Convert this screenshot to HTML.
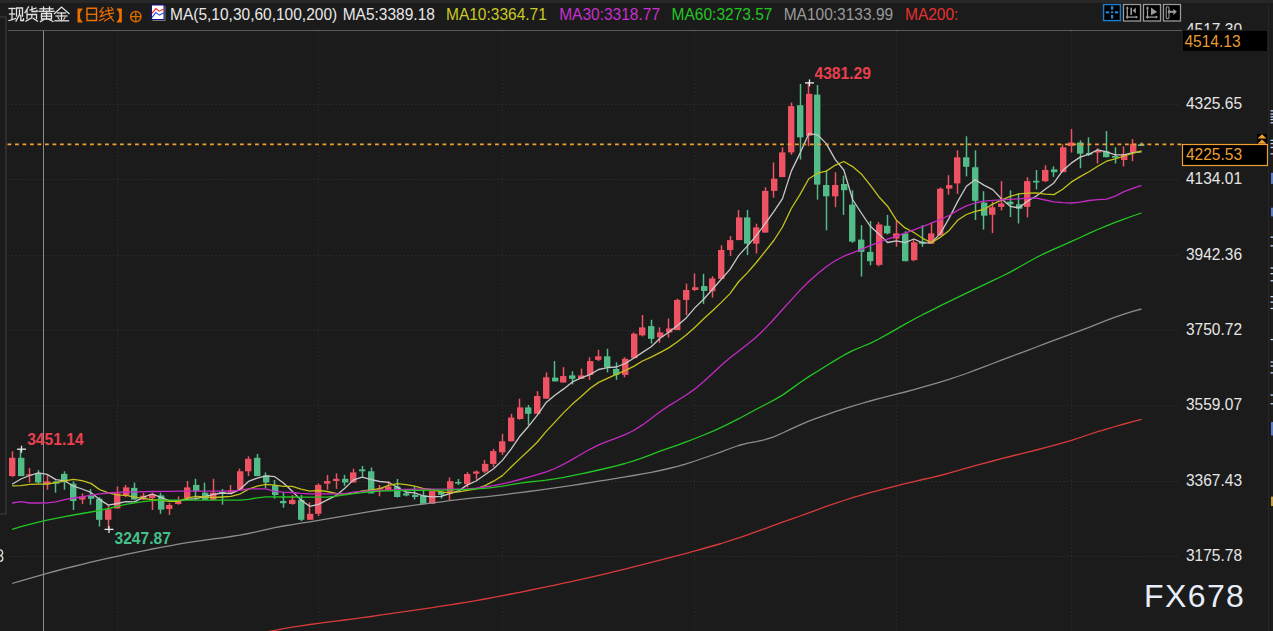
<!DOCTYPE html>
<html><head><meta charset="utf-8">
<style>
html,body{margin:0;padding:0;}
body{width:1273px;height:631px;overflow:hidden;background:#1b1b1b;position:relative;font-family:"Liberation Sans",sans-serif;}
.t{position:absolute;white-space:nowrap;font-size:15.5px;line-height:1;transform:scaleY(1.12);transform-origin:0 12.5px;}
svg{position:absolute;left:0;top:0;}
.ax{position:absolute;left:1186px;font-size:15.5px;color:#e6e6e6;line-height:1;white-space:nowrap;transform:scaleY(1.12);transform-origin:0 12.5px;}
.lb{position:absolute;font-weight:bold;font-size:15.6px;line-height:1;white-space:nowrap;}
</style></head><body>
<div style="position:absolute;left:0;top:0;width:1273px;height:3px;background:#272727"></div>
<svg width="1273" height="631" viewBox="0 0 1273 631">
<line x1="8" y1="104.5" x2="1180" y2="104.5" stroke="#353535" stroke-width="1" stroke-dasharray="1 2.77"/>
<line x1="8" y1="179.5" x2="1180" y2="179.5" stroke="#353535" stroke-width="1" stroke-dasharray="1 2.77"/>
<line x1="8" y1="255.5" x2="1180" y2="255.5" stroke="#353535" stroke-width="1" stroke-dasharray="1 2.77"/>
<line x1="8" y1="330.5" x2="1180" y2="330.5" stroke="#353535" stroke-width="1" stroke-dasharray="1 2.77"/>
<line x1="8" y1="405.5" x2="1180" y2="405.5" stroke="#353535" stroke-width="1" stroke-dasharray="1 2.77"/>
<line x1="8" y1="481.5" x2="1180" y2="481.5" stroke="#353535" stroke-width="1" stroke-dasharray="1 2.77"/>
<line x1="8" y1="556.5" x2="1180" y2="556.5" stroke="#353535" stroke-width="1" stroke-dasharray="1 2.77"/>
<line x1="117.5" y1="31" x2="117.5" y2="631" stroke="#313131" stroke-width="1" stroke-dasharray="1 2.77"/>
<line x1="318.5" y1="31" x2="318.5" y2="631" stroke="#313131" stroke-width="1" stroke-dasharray="1 2.77"/>
<line x1="502.5" y1="31" x2="502.5" y2="631" stroke="#313131" stroke-width="1" stroke-dasharray="1 2.77"/>
<line x1="694.5" y1="31" x2="694.5" y2="631" stroke="#313131" stroke-width="1" stroke-dasharray="1 2.77"/>
<line x1="896.5" y1="31" x2="896.5" y2="631" stroke="#313131" stroke-width="1" stroke-dasharray="1 2.77"/>
<line x1="1071.5" y1="31" x2="1071.5" y2="631" stroke="#313131" stroke-width="1" stroke-dasharray="1 2.77"/>
<line x1="8" y1="30.5" x2="1182" y2="30.5" stroke="#5a5a5a" stroke-width="1.2"/>
<line x1="43.5" y1="31" x2="43.5" y2="631" stroke="#8a8a8a" stroke-width="1"/>
<polyline points="0,17 6,17 6,514 0,514" fill="none" stroke="#2e2e2e" stroke-width="2"/>
<line x1="12.5" y1="451.3" x2="12.5" y2="476.9" stroke="#ef5262" stroke-width="1.5"/>
<rect x="9" y="457.8" width="6.4" height="18.3" fill="#ef5262"/>
<line x1="20.5" y1="449" x2="20.5" y2="476.1" stroke="#52bb88" stroke-width="1.5"/>
<rect x="18" y="457.8" width="6.4" height="18.3" fill="#52bb88"/>
<line x1="29.5" y1="467.9" x2="29.5" y2="482.5" stroke="#ef5262" stroke-width="1.5"/>
<rect x="26" y="474.3" width="6.4" height="1.2" fill="#ef5262"/>
<line x1="38.5" y1="470.1" x2="38.5" y2="483.7" stroke="#52bb88" stroke-width="1.5"/>
<rect x="35" y="473.4" width="6.4" height="9.1" fill="#52bb88"/>
<line x1="47.5" y1="475.4" x2="47.5" y2="489.7" stroke="#ef5262" stroke-width="1.5"/>
<rect x="44" y="481.4" width="6.4" height="3" fill="#ef5262"/>
<line x1="55.5" y1="480.6" x2="55.5" y2="492.7" stroke="#52bb88" stroke-width="1.5"/>
<rect x="53" y="481.4" width="6.4" height="2.3" fill="#52bb88"/>
<line x1="64.5" y1="471.3" x2="64.5" y2="489.7" stroke="#52bb88" stroke-width="1.5"/>
<rect x="61" y="473.9" width="6.4" height="8.3" fill="#52bb88"/>
<line x1="73.5" y1="481.4" x2="73.5" y2="510" stroke="#52bb88" stroke-width="1.5"/>
<rect x="70" y="483.7" width="6.4" height="17.3" fill="#52bb88"/>
<line x1="82.5" y1="493.4" x2="82.5" y2="504" stroke="#ef5262" stroke-width="1.5"/>
<rect x="79" y="496.5" width="6.4" height="3" fill="#ef5262"/>
<line x1="90.5" y1="488.9" x2="90.5" y2="504.7" stroke="#52bb88" stroke-width="1.5"/>
<rect x="88" y="495.7" width="6.4" height="3" fill="#52bb88"/>
<line x1="99.5" y1="497.2" x2="99.5" y2="526.6" stroke="#52bb88" stroke-width="1.5"/>
<rect x="96" y="498.7" width="6.4" height="21.1" fill="#52bb88"/>
<line x1="108.5" y1="504.7" x2="108.5" y2="529" stroke="#ef5262" stroke-width="1.5"/>
<rect x="105" y="509.3" width="6.4" height="10.5" fill="#ef5262"/>
<line x1="117.5" y1="486.4" x2="117.5" y2="508.5" stroke="#ef5262" stroke-width="1.5"/>
<rect x="114" y="493.4" width="6.4" height="15.1" fill="#ef5262"/>
<line x1="125.5" y1="484.9" x2="125.5" y2="497.2" stroke="#ef5262" stroke-width="1.5"/>
<rect x="123" y="487.4" width="6.4" height="8.3" fill="#ef5262"/>
<line x1="134.5" y1="482.6" x2="134.5" y2="500.2" stroke="#52bb88" stroke-width="1.5"/>
<rect x="131" y="487.9" width="6.4" height="11.6" fill="#52bb88"/>
<line x1="143.5" y1="492.7" x2="143.5" y2="500.2" stroke="#ef5262" stroke-width="1.5"/>
<rect x="140" y="495.7" width="6.4" height="3.8" fill="#ef5262"/>
<line x1="152.5" y1="492.7" x2="152.5" y2="510" stroke="#ef5262" stroke-width="1.5"/>
<rect x="149" y="494.2" width="6.4" height="3.8" fill="#ef5262"/>
<line x1="160.5" y1="492.7" x2="160.5" y2="513.8" stroke="#52bb88" stroke-width="1.5"/>
<rect x="158" y="495.4" width="6.4" height="14.2" fill="#52bb88"/>
<line x1="169.5" y1="502.9" x2="169.5" y2="515" stroke="#ef5262" stroke-width="1.5"/>
<rect x="166" y="505" width="6.4" height="4" fill="#ef5262"/>
<line x1="178.5" y1="496.5" x2="178.5" y2="504.7" stroke="#ef5262" stroke-width="1.5"/>
<rect x="175" y="500.2" width="6.4" height="3.8" fill="#ef5262"/>
<line x1="187.5" y1="481" x2="187.5" y2="498.7" stroke="#ef5262" stroke-width="1.5"/>
<rect x="184" y="487.4" width="6.4" height="10.6" fill="#ef5262"/>
<line x1="195.5" y1="478.8" x2="195.5" y2="499.9" stroke="#52bb88" stroke-width="1.5"/>
<rect x="193" y="484.9" width="6.4" height="6.3" fill="#52bb88"/>
<line x1="204.5" y1="482.6" x2="204.5" y2="499.9" stroke="#52bb88" stroke-width="1.5"/>
<rect x="202" y="492.7" width="6.4" height="7.2" fill="#52bb88"/>
<line x1="213.5" y1="478.8" x2="213.5" y2="499.9" stroke="#ef5262" stroke-width="1.5"/>
<rect x="210" y="492.7" width="6.4" height="7.2" fill="#ef5262"/>
<line x1="222.5" y1="488.9" x2="222.5" y2="504.7" stroke="#52bb88" stroke-width="1.5"/>
<rect x="219" y="492" width="6.4" height="1.9" fill="#52bb88"/>
<line x1="230.5" y1="484.9" x2="230.5" y2="493" stroke="#ef5262" stroke-width="1.5"/>
<rect x="228" y="490.4" width="6.4" height="2.3" fill="#ef5262"/>
<line x1="239.5" y1="468.6" x2="239.5" y2="490.4" stroke="#ef5262" stroke-width="1.5"/>
<rect x="237" y="471.3" width="6.4" height="18.4" fill="#ef5262"/>
<line x1="248.5" y1="456.3" x2="248.5" y2="476.1" stroke="#ef5262" stroke-width="1.5"/>
<rect x="245" y="458.8" width="6.4" height="12.5" fill="#ef5262"/>
<line x1="257.5" y1="453.9" x2="257.5" y2="476.1" stroke="#52bb88" stroke-width="1.5"/>
<rect x="254" y="457.8" width="6.4" height="18.3" fill="#52bb88"/>
<line x1="265.5" y1="472.4" x2="265.5" y2="488.2" stroke="#52bb88" stroke-width="1.5"/>
<rect x="263" y="475.4" width="6.4" height="7.1" fill="#52bb88"/>
<line x1="274.5" y1="479.9" x2="274.5" y2="498.7" stroke="#52bb88" stroke-width="1.5"/>
<rect x="272" y="485.2" width="6.4" height="9.8" fill="#52bb88"/>
<line x1="283.5" y1="492" x2="283.5" y2="507.7" stroke="#52bb88" stroke-width="1.5"/>
<rect x="280" y="501" width="6.4" height="2.2" fill="#52bb88"/>
<line x1="292.5" y1="495" x2="292.5" y2="504.7" stroke="#ef5262" stroke-width="1.5"/>
<rect x="289" y="499.9" width="6.4" height="4.1" fill="#ef5262"/>
<line x1="301.5" y1="495" x2="301.5" y2="521" stroke="#52bb88" stroke-width="1.5"/>
<rect x="298" y="499.9" width="6.4" height="19.9" fill="#52bb88"/>
<line x1="309.5" y1="502.5" x2="309.5" y2="519.8" stroke="#ef5262" stroke-width="1.5"/>
<rect x="307" y="513.8" width="6.4" height="6" fill="#ef5262"/>
<line x1="318.5" y1="483.4" x2="318.5" y2="516" stroke="#ef5262" stroke-width="1.5"/>
<rect x="315" y="484.9" width="6.4" height="28.9" fill="#ef5262"/>
<line x1="327.5" y1="474.9" x2="327.5" y2="489.7" stroke="#ef5262" stroke-width="1.5"/>
<rect x="324" y="481" width="6.4" height="2.7" fill="#ef5262"/>
<line x1="336.5" y1="473.4" x2="336.5" y2="488.9" stroke="#ef5262" stroke-width="1.5"/>
<rect x="333" y="478.8" width="6.4" height="2.2" fill="#ef5262"/>
<line x1="344.5" y1="474.9" x2="344.5" y2="485.9" stroke="#52bb88" stroke-width="1.5"/>
<rect x="342" y="478.8" width="6.4" height="3.7" fill="#52bb88"/>
<line x1="353.5" y1="468.6" x2="353.5" y2="482.5" stroke="#ef5262" stroke-width="1.5"/>
<rect x="350" y="472.4" width="6.4" height="10.1" fill="#ef5262"/>
<line x1="362.5" y1="465.9" x2="362.5" y2="476.9" stroke="#52bb88" stroke-width="1.5"/>
<rect x="359" y="469.4" width="6.4" height="1.9" fill="#52bb88"/>
<line x1="371.5" y1="467.4" x2="371.5" y2="493.4" stroke="#52bb88" stroke-width="1.5"/>
<rect x="368" y="471.3" width="6.4" height="22.1" fill="#52bb88"/>
<line x1="379.5" y1="485" x2="379.5" y2="496.3" stroke="#ef5262" stroke-width="1.5"/>
<rect x="377" y="488" width="6.4" height="1.5" fill="#ef5262"/>
<line x1="388.5" y1="481.2" x2="388.5" y2="490.3" stroke="#ef5262" stroke-width="1.5"/>
<rect x="385" y="486.5" width="6.4" height="3.8" fill="#ef5262"/>
<line x1="397.5" y1="479" x2="397.5" y2="497.5" stroke="#52bb88" stroke-width="1.5"/>
<rect x="394" y="486.5" width="6.4" height="10.5" fill="#52bb88"/>
<line x1="406.5" y1="491" x2="406.5" y2="496.3" stroke="#52bb88" stroke-width="1.5"/>
<rect x="403" y="493.3" width="6.4" height="2.2" fill="#52bb88"/>
<line x1="414.5" y1="486.5" x2="414.5" y2="499.6" stroke="#52bb88" stroke-width="1.5"/>
<rect x="412" y="494.8" width="6.4" height="2.2" fill="#52bb88"/>
<line x1="423.5" y1="491" x2="423.5" y2="503.8" stroke="#52bb88" stroke-width="1.5"/>
<rect x="420" y="495.5" width="6.4" height="8.3" fill="#52bb88"/>
<line x1="432.5" y1="491" x2="432.5" y2="503.8" stroke="#ef5262" stroke-width="1.5"/>
<rect x="429" y="491" width="6.4" height="12.8" fill="#ef5262"/>
<line x1="441.5" y1="491" x2="441.5" y2="498.6" stroke="#52bb88" stroke-width="1.5"/>
<rect x="438" y="491.8" width="6.4" height="3" fill="#52bb88"/>
<line x1="449.5" y1="477.5" x2="449.5" y2="500.1" stroke="#ef5262" stroke-width="1.5"/>
<rect x="447" y="481.2" width="6.4" height="12.1" fill="#ef5262"/>
<line x1="458.5" y1="479" x2="458.5" y2="485" stroke="#52bb88" stroke-width="1.5"/>
<rect x="455" y="482" width="6.4" height="1.5" fill="#52bb88"/>
<line x1="467.5" y1="472.2" x2="467.5" y2="487.3" stroke="#ef5262" stroke-width="1.5"/>
<rect x="464" y="474" width="6.4" height="10.3" fill="#ef5262"/>
<line x1="476.5" y1="470.4" x2="476.5" y2="479.7" stroke="#ef5262" stroke-width="1.5"/>
<rect x="473" y="471.5" width="6.4" height="2.2" fill="#ef5262"/>
<line x1="484.5" y1="459.9" x2="484.5" y2="473" stroke="#ef5262" stroke-width="1.5"/>
<rect x="482" y="463.9" width="6.4" height="7.6" fill="#ef5262"/>
<line x1="493.5" y1="448.9" x2="493.5" y2="466.9" stroke="#ef5262" stroke-width="1.5"/>
<rect x="490" y="451.1" width="6.4" height="12.8" fill="#ef5262"/>
<line x1="502.5" y1="433.8" x2="502.5" y2="454.9" stroke="#ef5262" stroke-width="1.5"/>
<rect x="499" y="441.3" width="6.4" height="11" fill="#ef5262"/>
<line x1="511.5" y1="413.8" x2="511.5" y2="441.3" stroke="#ef5262" stroke-width="1.5"/>
<rect x="508" y="417.5" width="6.4" height="23.8" fill="#ef5262"/>
<line x1="519.5" y1="398.7" x2="519.5" y2="419.8" stroke="#ef5262" stroke-width="1.5"/>
<rect x="517" y="407.4" width="6.4" height="11.6" fill="#ef5262"/>
<line x1="528.5" y1="405" x2="528.5" y2="425.1" stroke="#52bb88" stroke-width="1.5"/>
<rect x="525" y="407.4" width="6.4" height="6.4" fill="#52bb88"/>
<line x1="537.5" y1="391.2" x2="537.5" y2="413.8" stroke="#ef5262" stroke-width="1.5"/>
<rect x="534" y="396" width="6.4" height="17.8" fill="#ef5262"/>
<line x1="546.5" y1="372.4" x2="546.5" y2="398.7" stroke="#ef5262" stroke-width="1.5"/>
<rect x="543" y="377.3" width="6.4" height="21.4" fill="#ef5262"/>
<line x1="554.5" y1="361.1" x2="554.5" y2="381.4" stroke="#52bb88" stroke-width="1.5"/>
<rect x="552" y="377.6" width="6.4" height="3.8" fill="#52bb88"/>
<line x1="563.5" y1="367.1" x2="563.5" y2="382.5" stroke="#ef5262" stroke-width="1.5"/>
<rect x="560" y="376.1" width="6.4" height="6.4" fill="#ef5262"/>
<line x1="572.5" y1="371.3" x2="572.5" y2="384.4" stroke="#52bb88" stroke-width="1.5"/>
<rect x="569" y="375.4" width="6.4" height="3.4" fill="#52bb88"/>
<line x1="581.5" y1="368.6" x2="581.5" y2="378.8" stroke="#ef5262" stroke-width="1.5"/>
<rect x="578" y="375.4" width="6.4" height="3.4" fill="#ef5262"/>
<line x1="589.5" y1="357.3" x2="589.5" y2="379.9" stroke="#ef5262" stroke-width="1.5"/>
<rect x="587" y="361.1" width="6.4" height="13.8" fill="#ef5262"/>
<line x1="598.5" y1="349.8" x2="598.5" y2="361.1" stroke="#ef5262" stroke-width="1.5"/>
<rect x="595" y="356.3" width="6.4" height="3.6" fill="#ef5262"/>
<line x1="607.5" y1="348.7" x2="607.5" y2="372.4" stroke="#52bb88" stroke-width="1.5"/>
<rect x="604" y="356.3" width="6.4" height="10.8" fill="#52bb88"/>
<line x1="616.5" y1="362.3" x2="616.5" y2="379.9" stroke="#52bb88" stroke-width="1.5"/>
<rect x="613" y="368.9" width="6.4" height="6" fill="#52bb88"/>
<line x1="624.5" y1="357.3" x2="624.5" y2="377.3" stroke="#ef5262" stroke-width="1.5"/>
<rect x="622" y="358.8" width="6.4" height="16.1" fill="#ef5262"/>
<line x1="633.5" y1="332.4" x2="633.5" y2="358.1" stroke="#ef5262" stroke-width="1.5"/>
<rect x="631" y="333.7" width="6.4" height="24.4" fill="#ef5262"/>
<line x1="642.5" y1="315" x2="642.5" y2="336.4" stroke="#ef5262" stroke-width="1.5"/>
<rect x="639" y="327.4" width="6.4" height="7.9" fill="#ef5262"/>
<line x1="651.5" y1="319.8" x2="651.5" y2="343.5" stroke="#52bb88" stroke-width="1.5"/>
<rect x="648" y="326.1" width="6.4" height="12.7" fill="#52bb88"/>
<line x1="659.5" y1="327.4" x2="659.5" y2="342.7" stroke="#ef5262" stroke-width="1.5"/>
<rect x="657" y="332.4" width="6.4" height="4.8" fill="#ef5262"/>
<line x1="668.5" y1="318.5" x2="668.5" y2="337.5" stroke="#ef5262" stroke-width="1.5"/>
<rect x="666" y="328.5" width="6.4" height="3.9" fill="#ef5262"/>
<line x1="677.5" y1="298.8" x2="677.5" y2="330.1" stroke="#ef5262" stroke-width="1.5"/>
<rect x="674" y="299.9" width="6.4" height="30.2" fill="#ef5262"/>
<line x1="686.5" y1="283.6" x2="686.5" y2="315" stroke="#ef5262" stroke-width="1.5"/>
<rect x="683" y="290" width="6.4" height="9.9" fill="#ef5262"/>
<line x1="694.5" y1="273.5" x2="694.5" y2="290.9" stroke="#ef5262" stroke-width="1.5"/>
<rect x="692" y="287.3" width="6.4" height="2.7" fill="#ef5262"/>
<line x1="703.5" y1="273.8" x2="703.5" y2="303.9" stroke="#52bb88" stroke-width="1.5"/>
<rect x="701" y="286.1" width="6.4" height="4.8" fill="#52bb88"/>
<line x1="712.5" y1="276.2" x2="712.5" y2="297.6" stroke="#ef5262" stroke-width="1.5"/>
<rect x="709" y="278.5" width="6.4" height="12.7" fill="#ef5262"/>
<line x1="721.5" y1="245.3" x2="721.5" y2="278.9" stroke="#ef5262" stroke-width="1.5"/>
<rect x="718" y="250" width="6.4" height="28.9" fill="#ef5262"/>
<line x1="730.5" y1="236.1" x2="730.5" y2="255.9" stroke="#ef5262" stroke-width="1.5"/>
<rect x="727" y="240.1" width="6.4" height="9.9" fill="#ef5262"/>
<line x1="738.5" y1="209.9" x2="738.5" y2="240.1" stroke="#ef5262" stroke-width="1.5"/>
<rect x="736" y="217.4" width="6.4" height="22.7" fill="#ef5262"/>
<line x1="747.5" y1="209.9" x2="747.5" y2="255.1" stroke="#52bb88" stroke-width="1.5"/>
<rect x="744" y="217.4" width="6.4" height="26.3" fill="#52bb88"/>
<line x1="756.5" y1="223.7" x2="756.5" y2="253.5" stroke="#ef5262" stroke-width="1.5"/>
<rect x="753" y="227.4" width="6.4" height="16.3" fill="#ef5262"/>
<line x1="765.5" y1="187.3" x2="765.5" y2="232.6" stroke="#ef5262" stroke-width="1.5"/>
<rect x="762" y="190.9" width="6.4" height="41.7" fill="#ef5262"/>
<line x1="773.5" y1="162.4" x2="773.5" y2="197.7" stroke="#ef5262" stroke-width="1.5"/>
<rect x="771" y="178.7" width="6.4" height="12.2" fill="#ef5262"/>
<line x1="782.5" y1="147.4" x2="782.5" y2="177.1" stroke="#ef5262" stroke-width="1.5"/>
<rect x="779" y="152.4" width="6.4" height="24.7" fill="#ef5262"/>
<line x1="791.5" y1="102.5" x2="791.5" y2="154.8" stroke="#ef5262" stroke-width="1.5"/>
<rect x="788" y="106.1" width="6.4" height="46.3" fill="#ef5262"/>
<line x1="800.5" y1="84" x2="800.5" y2="159.6" stroke="#52bb88" stroke-width="1.5"/>
<rect x="797" y="105.2" width="6.4" height="32.2" fill="#52bb88"/>
<line x1="808.5" y1="81.9" x2="808.5" y2="146.1" stroke="#ef5262" stroke-width="1.5"/>
<rect x="806" y="93.8" width="6.4" height="42" fill="#ef5262"/>
<line x1="817.5" y1="85.1" x2="817.5" y2="199.6" stroke="#52bb88" stroke-width="1.5"/>
<rect x="814" y="94.6" width="6.4" height="90" fill="#52bb88"/>
<line x1="826.5" y1="170.6" x2="826.5" y2="230.3" stroke="#52bb88" stroke-width="1.5"/>
<rect x="823" y="185" width="6.4" height="11.3" fill="#52bb88"/>
<line x1="835.5" y1="172.2" x2="835.5" y2="207.2" stroke="#ef5262" stroke-width="1.5"/>
<rect x="832" y="185" width="6.4" height="11.3" fill="#ef5262"/>
<line x1="843.5" y1="175.7" x2="843.5" y2="214.9" stroke="#52bb88" stroke-width="1.5"/>
<rect x="841" y="184" width="6.4" height="6.2" fill="#52bb88"/>
<line x1="852.5" y1="190.2" x2="852.5" y2="242.7" stroke="#52bb88" stroke-width="1.5"/>
<rect x="849" y="204.6" width="6.4" height="37" fill="#52bb88"/>
<line x1="861.5" y1="225.2" x2="861.5" y2="276.6" stroke="#52bb88" stroke-width="1.5"/>
<rect x="858" y="239.6" width="6.4" height="12.3" fill="#52bb88"/>
<line x1="870.5" y1="221" x2="870.5" y2="265.3" stroke="#52bb88" stroke-width="1.5"/>
<rect x="867" y="251.9" width="6.4" height="9.3" fill="#52bb88"/>
<line x1="878.5" y1="222.1" x2="878.5" y2="266.4" stroke="#ef5262" stroke-width="1.5"/>
<rect x="876" y="224.5" width="6.4" height="40.4" fill="#ef5262"/>
<line x1="887.5" y1="214.9" x2="887.5" y2="234.4" stroke="#52bb88" stroke-width="1.5"/>
<rect x="884" y="225.8" width="6.4" height="7.6" fill="#52bb88"/>
<line x1="896.5" y1="221" x2="896.5" y2="246.8" stroke="#ef5262" stroke-width="1.5"/>
<rect x="893" y="233.4" width="6.4" height="5.1" fill="#ef5262"/>
<line x1="905.5" y1="231.3" x2="905.5" y2="261.2" stroke="#52bb88" stroke-width="1.5"/>
<rect x="902" y="233.4" width="6.4" height="27.8" fill="#52bb88"/>
<line x1="913.5" y1="239" x2="913.5" y2="261.2" stroke="#ef5262" stroke-width="1.5"/>
<rect x="911" y="242.3" width="6.4" height="17.9" fill="#ef5262"/>
<line x1="922.5" y1="225.2" x2="922.5" y2="246.8" stroke="#52bb88" stroke-width="1.5"/>
<rect x="919" y="241.6" width="6.4" height="2.1" fill="#52bb88"/>
<line x1="931.5" y1="222.1" x2="931.5" y2="243.7" stroke="#ef5262" stroke-width="1.5"/>
<rect x="928" y="233.4" width="6.4" height="10.3" fill="#ef5262"/>
<line x1="940.5" y1="187.5" x2="940.5" y2="235.5" stroke="#ef5262" stroke-width="1.5"/>
<rect x="937" y="188.7" width="6.4" height="46.8" fill="#ef5262"/>
<line x1="948.5" y1="175.2" x2="948.5" y2="194.7" stroke="#ef5262" stroke-width="1.5"/>
<rect x="946" y="185.1" width="6.4" height="3.5" fill="#ef5262"/>
<line x1="957.5" y1="150.3" x2="957.5" y2="193.9" stroke="#ef5262" stroke-width="1.5"/>
<rect x="954" y="157.3" width="6.4" height="26.1" fill="#ef5262"/>
<line x1="966.5" y1="136.3" x2="966.5" y2="176.4" stroke="#52bb88" stroke-width="1.5"/>
<rect x="963" y="157.3" width="6.4" height="9.5" fill="#52bb88"/>
<line x1="975.5" y1="150.3" x2="975.5" y2="220" stroke="#52bb88" stroke-width="1.5"/>
<rect x="972" y="167.2" width="6.4" height="33.6" fill="#52bb88"/>
<line x1="983.5" y1="191.2" x2="983.5" y2="229.6" stroke="#52bb88" stroke-width="1.5"/>
<rect x="981" y="202.6" width="6.4" height="13.1" fill="#52bb88"/>
<line x1="992.5" y1="201.7" x2="992.5" y2="233.1" stroke="#ef5262" stroke-width="1.5"/>
<rect x="989" y="207.3" width="6.4" height="7.5" fill="#ef5262"/>
<line x1="1001.5" y1="181.1" x2="1001.5" y2="210.4" stroke="#ef5262" stroke-width="1.5"/>
<rect x="998" y="203.5" width="6.4" height="3.4" fill="#ef5262"/>
<line x1="1010.5" y1="190.4" x2="1010.5" y2="217" stroke="#52bb88" stroke-width="1.5"/>
<rect x="1007" y="201.7" width="6.4" height="2.6" fill="#52bb88"/>
<line x1="1018.5" y1="193.3" x2="1018.5" y2="223.5" stroke="#52bb88" stroke-width="1.5"/>
<rect x="1016" y="204.3" width="6.4" height="4.4" fill="#52bb88"/>
<line x1="1027.5" y1="177.3" x2="1027.5" y2="217.4" stroke="#ef5262" stroke-width="1.5"/>
<rect x="1024" y="181.1" width="6.4" height="25.8" fill="#ef5262"/>
<line x1="1036.5" y1="170" x2="1036.5" y2="189.5" stroke="#52bb88" stroke-width="1.5"/>
<rect x="1033" y="180.8" width="6.4" height="1.7" fill="#52bb88"/>
<line x1="1045.5" y1="165.2" x2="1045.5" y2="182.1" stroke="#ef5262" stroke-width="1.5"/>
<rect x="1042" y="169.9" width="6.4" height="11.3" fill="#ef5262"/>
<line x1="1053.5" y1="166.4" x2="1053.5" y2="176.9" stroke="#52bb88" stroke-width="1.5"/>
<rect x="1051" y="169.4" width="6.4" height="2.8" fill="#52bb88"/>
<line x1="1062.5" y1="144.3" x2="1062.5" y2="172.2" stroke="#ef5262" stroke-width="1.5"/>
<rect x="1060" y="147.3" width="6.4" height="24.9" fill="#ef5262"/>
<line x1="1071.5" y1="128.9" x2="1071.5" y2="152.5" stroke="#ef5262" stroke-width="1.5"/>
<rect x="1068" y="142.5" width="6.4" height="3.5" fill="#ef5262"/>
<line x1="1080.5" y1="140.3" x2="1080.5" y2="168.2" stroke="#52bb88" stroke-width="1.5"/>
<rect x="1077" y="142.5" width="6.4" height="11.2" fill="#52bb88"/>
<line x1="1088.5" y1="137.3" x2="1088.5" y2="156" stroke="#52bb88" stroke-width="1.5"/>
<rect x="1086" y="153" width="6.4" height="1.7" fill="#52bb88"/>
<line x1="1097.5" y1="148.1" x2="1097.5" y2="163.5" stroke="#ef5262" stroke-width="1.5"/>
<rect x="1095" y="150.7" width="6.4" height="1.8" fill="#ef5262"/>
<line x1="1106.5" y1="131" x2="1106.5" y2="157.2" stroke="#52bb88" stroke-width="1.5"/>
<rect x="1103" y="151.3" width="6.4" height="5.9" fill="#52bb88"/>
<line x1="1115.5" y1="147.3" x2="1115.5" y2="163.5" stroke="#52bb88" stroke-width="1.5"/>
<rect x="1112" y="156" width="6.4" height="1.7" fill="#52bb88"/>
<line x1="1123.5" y1="146.4" x2="1123.5" y2="166.4" stroke="#ef5262" stroke-width="1.5"/>
<rect x="1121" y="154.2" width="6.4" height="5.8" fill="#ef5262"/>
<line x1="1132.5" y1="139.1" x2="1132.5" y2="161.2" stroke="#ef5262" stroke-width="1.5"/>
<rect x="1130" y="143.8" width="6.4" height="8.7" fill="#ef5262"/>
<line x1="1141.5" y1="142.5" x2="1141.5" y2="146" stroke="#52bb88" stroke-width="1.5"/>
<rect x="1138" y="144.3" width="6.4" height="1.7" fill="#52bb88"/>
<polyline points="12.1,484.2 20.9,479 29.6,475.5 38.4,472.8 47.1,474.4 55.9,479.6 64.6,480.8 73.4,486.2 82.1,489 90.9,492.4 99.7,499.6 108.4,505.1 117.2,503.5 125.9,501.7 134.7,501.9 143.4,497.1 152.2,494 160.9,497.3 169.7,500.8 178.4,500.9 187.2,499.3 196,498.7 204.7,496.7 213.5,494.3 222.2,493 231,493.6 239.7,489.6 248.5,481.4 257.2,478.1 266,475.8 274.8,476.7 283.5,483.1 292.3,491.3 301,500.1 309.8,506.3 318.5,504.3 327.3,499.9 336,495.7 344.8,488.2 353.5,479.9 362.3,477.2 371.1,479.7 379.8,481.5 388.6,482.3 397.3,487.2 406.1,492.1 414.8,492.8 423.6,496 432.3,496.9 441.1,496.4 449.9,493.6 458.6,490.9 467.4,484.9 476.1,481 484.9,474.8 493.6,468.8 502.4,460.4 511.1,449.1 519.9,436.2 528.6,426.2 537.4,415.2 546.2,402.4 554.9,395.2 563.7,388.9 572.4,381.9 581.2,377.8 589.9,374.6 598.7,369.5 607.4,367.7 616.2,367 625,363.6 633.7,358.2 642.5,352.4 651.2,346.7 660,338.2 668.7,332.2 677.5,325.4 686.2,317.9 695,307.6 703.7,299.3 712.5,289.3 721.3,279.3 730,269.4 738.8,255.4 747.5,245.9 756.3,235.7 765,223.9 773.8,211.6 782.5,198.6 791.3,171.1 800.1,153.1 808.8,133.7 817.6,134.9 826.3,143.6 835.1,159.4 843.8,170 852.6,199.5 861.3,213 870.1,226 878.8,233.9 887.6,242.5 896.4,240.9 905.1,242.7 913.9,239 922.6,242.8 931.4,242.8 940.1,233.9 948.9,218.6 957.6,201.6 966.4,186.3 975.2,179.7 983.9,185.1 992.7,189.6 1001.4,198.8 1010.2,206.3 1018.9,207.9 1027.7,201 1036.4,196 1045.2,189.3 1053.9,182.9 1062.7,170.6 1071.5,162.9 1080.2,157.1 1089,154.1 1097.7,149.8 1106.5,151.8 1115.2,154.8 1124,154.9 1132.7,152.7 1141.5,151.8" fill="none" stroke="#c8c8c8" stroke-width="1.3" stroke-linejoin="round"/>
<polyline points="12.1,485.9 20.9,485.7 29.6,484.3 38.4,484.2 47.1,484 55.9,482.7 64.6,480.8 73.4,479.4 82.1,480.6 90.9,483.4 99.7,489.6 108.4,492.9 117.2,494.9 125.9,495.3 134.7,497.1 143.4,498.4 152.2,499.6 160.9,500.4 169.7,501.3 178.4,501.4 187.2,498.2 196,496.4 204.7,497 213.5,497.5 222.2,497 231,496.4 239.7,494.2 248.5,489.1 257.2,486.2 266,484.4 274.8,485.2 283.5,486.4 292.3,486.4 301,489.1 309.8,491.1 318.5,490.5 327.3,491.5 336,493.5 344.8,494.1 353.5,493.1 362.3,490.8 371.1,489.8 379.8,488.6 388.6,485.3 397.3,483.6 406.1,484.6 414.8,486.2 423.6,488.7 432.3,489.6 441.1,491.8 449.9,492.8 458.6,491.8 467.4,490.4 476.1,488.9 484.9,485.6 493.6,481.2 502.4,475.6 511.1,467 519.9,458.6 528.6,450.5 537.4,442 546.2,431.4 554.9,422.1 563.7,412.6 572.4,404.1 581.2,396.5 589.9,388.5 598.7,382.4 607.4,378.3 616.2,374.4 625,370.7 633.7,366.4 642.5,361 651.2,357.2 660,352.6 668.7,347.9 677.5,341.8 686.2,335.1 695,327.2 703.7,318.8 712.5,310.7 721.3,302.4 730,293.6 738.8,281.5 747.5,272.6 756.3,262.5 765,251.6 773.8,240.5 782.5,227 791.3,208.5 800.1,194.4 808.8,178.8 817.6,173.2 826.3,171.1 835.1,165.3 843.8,161.5 852.6,166.6 861.3,173.9 870.1,184.8 878.8,196.7 887.6,206.2 896.4,220.2 905.1,227.9 913.9,232.5 922.6,238.3 931.4,242.7 940.1,237.4 948.9,230.7 957.6,220.3 966.4,214.5 975.2,211.3 983.9,209.5 992.7,204.1 1001.4,200.2 1010.2,196.3 1018.9,193.8 1027.7,193.1 1036.4,192.8 1045.2,194.1 1053.9,194.6 1062.7,189.2 1071.5,181.9 1080.2,176.6 1089,171.7 1097.7,166.3 1106.5,161.2 1115.2,158.8 1124,156 1132.7,153.4 1141.5,150.8" fill="none" stroke="#c2c21c" stroke-width="1.3" stroke-linejoin="round"/>
<polyline points="12.1,503 20.9,501.7 29.6,503 38.4,503 47.1,502.8 55.9,501.8 64.6,499.7 73.4,498 82.1,497 90.9,495.2 99.7,493.8 108.4,493 117.2,492.3 125.9,492 134.7,491.8 143.4,491.6 152.2,491.5 160.9,491.4 169.7,491.3 178.4,491.2 187.2,491.2 196,491.2 204.7,491.2 213.5,491.2 222.2,491.2 231,491.2 239.7,490.3 248.5,488.9 257.2,488.9 266,488.9 274.8,491.3 283.5,492.1 292.3,492.5 301,493.4 309.8,493.9 318.5,493.9 327.3,493.9 336,493.9 344.8,493.6 353.5,492.2 362.3,491.4 371.1,490.8 379.8,490.4 388.6,490.1 397.3,489.7 406.1,489.5 414.8,489.2 423.6,489.1 432.3,489.1 441.1,489.1 449.9,489.1 458.6,489.1 467.4,488.9 476.1,488.1 484.9,487 493.6,485.7 502.4,483.9 511.1,481.8 519.9,479.5 528.6,477.1 537.4,474.7 546.2,471.9 554.9,468.5 563.7,464.2 572.4,459.4 581.2,454.3 589.9,449.3 598.7,444.9 607.4,441.3 616.2,438.1 625,434.7 633.7,430.5 642.5,424.9 651.2,418.4 660,411.8 668.7,405.9 677.5,400.5 686.2,395 695,388.9 703.7,381.6 712.5,373.5 721.3,365.3 730,357.7 738.8,350.9 747.5,344.2 756.3,337 765,328.6 773.8,319.2 782.5,309.5 791.3,299.9 800.1,290.1 808.8,281.5 817.6,273.8 826.3,266.8 835.1,260.8 843.8,256.2 852.6,252.9 861.3,249.3 870.1,245.7 878.8,242.3 887.6,239.1 896.4,236.1 905.1,233.1 913.9,229.9 922.6,226.6 931.4,223.2 940.1,219.6 948.9,215.5 957.6,210.4 966.4,205.8 975.2,203 983.9,201.1 992.7,200.3 1001.4,199.8 1010.2,199.4 1018.9,198.9 1027.7,198.1 1036.4,198.1 1045.2,200 1053.9,201.8 1062.7,202.6 1071.5,203 1080.2,202.1 1089,200.5 1097.7,199.7 1106.5,199.2 1115.2,196.2 1124,191.6 1132.7,188.3 1141.5,185.4" fill="none" stroke="#c42ac4" stroke-width="1.3" stroke-linejoin="round"/>
<polyline points="12.1,529.3 20.9,526.7 29.6,524.3 38.4,522.1 47.1,520.1 55.9,518.3 64.6,516.6 73.4,515 82.1,513.5 90.9,512 99.7,510.4 108.4,508.5 117.2,506.3 125.9,504.3 134.7,502.8 143.4,501.6 152.2,500.7 160.9,500.2 169.7,500.2 178.4,500.2 187.2,500.2 196,500.2 204.7,500.2 213.5,500.2 222.2,500.2 231,500.2 239.7,500.1 248.5,499.3 257.2,497.8 266,496.9 274.8,496.9 283.5,497 292.3,497 301,497.1 309.8,497.2 318.5,497.2 327.3,497.2 336,496.1 344.8,494.9 353.5,493.7 362.3,492.6 371.1,491.8 379.8,491.2 388.6,490.9 397.3,490.7 406.1,490.5 414.8,490.4 423.6,490.3 432.3,490.2 441.1,490.1 449.9,489.9 458.6,489.7 467.4,489.4 476.1,488.9 484.9,488.3 493.6,487.4 502.4,486.1 511.1,484.6 519.9,483.2 528.6,482 537.4,481.1 546.2,480.1 554.9,478.9 563.7,477.4 572.4,475.7 581.2,473.9 589.9,472 598.7,470 607.4,468 616.2,465.8 625,463.5 633.7,460.9 642.5,457.9 651.2,454.6 660,451.2 668.7,448.1 677.5,445.1 686.2,441.9 695,438.5 703.7,435 712.5,431.3 721.3,427.3 730,423.2 738.8,418.7 747.5,414 756.3,409.3 765,404.7 773.8,400.1 782.5,395.1 791.3,388.9 800.1,382.5 808.8,376.6 817.6,371.2 826.3,365.8 835.1,360.4 843.8,355.2 852.6,350.6 861.3,347 870.1,343.4 878.8,339 887.6,334.1 896.4,329.1 905.1,324.1 913.9,319.3 922.6,314.7 931.4,310.3 940.1,305.9 948.9,301.6 957.6,297.3 966.4,293.1 975.2,288.9 983.9,284.8 992.7,280.7 1001.4,276.5 1010.2,272.1 1018.9,267.3 1027.7,262.3 1036.4,257.5 1045.2,253.1 1053.9,249.1 1062.7,245.3 1071.5,241.4 1080.2,237.5 1089,233.4 1097.7,229.5 1106.5,225.9 1115.2,222.4 1124,219.1 1132.7,216 1141.5,213" fill="none" stroke="#22c622" stroke-width="1.3" stroke-linejoin="round"/>
<polyline points="12.1,583.5 20.9,580.9 29.6,578.3 38.4,575.8 47.1,573.4 55.9,571 64.6,568.7 73.4,566.5 82.1,564.3 90.9,562.2 99.7,560.2 108.4,558.2 117.2,556.3 125.9,554.4 134.7,552.6 143.4,550.8 152.2,549 160.9,547.4 169.7,545.8 178.4,544.2 187.2,542.7 196,541.3 204.7,540.1 213.5,538.9 222.2,537.8 231,536.5 239.7,535.2 248.5,533.5 257.2,531.6 266,529.6 274.8,527.7 283.5,526 292.3,524.6 301,523.2 309.8,521.8 318.5,520.4 327.3,518.9 336,517.4 344.8,515.9 353.5,514.3 362.3,512.8 371.1,511.4 379.8,510 388.6,508.7 397.3,507.5 406.1,506.3 414.8,505.1 423.6,504 432.3,502.9 441.1,501.8 449.9,500.7 458.6,499.7 467.4,498.7 476.1,497.7 484.9,496.8 493.6,495.8 502.4,494.8 511.1,493.7 519.9,492.6 528.6,491.5 537.4,490.3 546.2,489.1 554.9,487.9 563.7,486.6 572.4,485.3 581.2,484 589.9,482.6 598.7,481.2 607.4,479.8 616.2,478.4 625,476.9 633.7,475.5 642.5,473.9 651.2,472.3 660,470.5 668.7,468.5 677.5,466.3 686.2,463.8 695,461 703.7,458 712.5,455 721.3,451.8 730,448.5 738.8,445.5 747.5,443.2 756.3,441.6 765,439.7 773.8,436.8 782.5,433 791.3,428.9 800.1,424.8 808.8,421.2 817.6,417.9 826.3,414.8 835.1,411.7 843.8,408.8 852.6,406.1 861.3,403.5 870.1,401 878.8,398.6 887.6,396.4 896.4,394.2 905.1,392 913.9,389.6 922.6,387.2 931.4,384.7 940.1,382.1 948.9,379.4 957.6,376.5 966.4,373.5 975.2,370.2 983.9,366.9 992.7,363.5 1001.4,360.1 1010.2,356.8 1018.9,353.6 1027.7,350.3 1036.4,347 1045.2,343.7 1053.9,340.4 1062.7,337.2 1071.5,333.9 1080.2,330.6 1089,327.3 1097.7,323.9 1106.5,320.4 1115.2,317.1 1124,314.1 1132.7,311.4 1141.5,309" fill="none" stroke="#8c8c8c" stroke-width="1.3" stroke-linejoin="round"/>
<polyline points="204.7,650.3 213.5,647.3 222.2,644.3 231,641.5 239.7,638.8 248.5,636.4 257.2,634.1 266,632 274.8,630.3 283.5,628.7 292.3,627.2 301,625.8 309.8,624.5 318.5,623.3 327.3,622.2 336,621.1 344.8,620 353.5,618.8 362.3,617.7 371.1,616.5 379.8,615.2 388.6,613.9 397.3,612.6 406.1,611.4 414.8,610.1 423.6,608.8 432.3,607.6 441.1,606.2 449.9,604.9 458.6,603.5 467.4,602.1 476.1,600.6 484.9,599 493.6,597.4 502.4,595.7 511.1,594 519.9,592.3 528.6,590.5 537.4,588.7 546.2,586.9 554.9,585.1 563.7,583.2 572.4,581.3 581.2,579.4 589.9,577.4 598.7,575.4 607.4,573.3 616.2,571.2 625,569.1 633.7,566.9 642.5,564.7 651.2,562.4 660,560.1 668.7,557.9 677.5,555.6 686.2,553.3 695,550.9 703.7,548.5 712.5,546 721.3,543.5 730,540.7 738.8,537.9 747.5,534.8 756.3,531.7 765,528.6 773.8,525.4 782.5,522.2 791.3,519.1 800.1,516 808.8,512.8 817.6,509.6 826.3,506.4 835.1,503.4 843.8,500.5 852.6,497.7 861.3,495.2 870.1,492.7 878.8,490.4 887.6,488.1 896.4,485.9 905.1,483.7 913.9,481.6 922.6,479.5 931.4,477.6 940.1,475.5 948.9,473.1 957.6,470.6 966.4,468.1 975.2,465.7 983.9,463.4 992.7,461 1001.4,458.7 1010.2,456.5 1018.9,454.3 1027.7,452.2 1036.4,450 1045.2,447.7 1053.9,445.3 1062.7,442.9 1071.5,440.3 1080.2,437.5 1089,434.5 1097.7,431.7 1106.5,429.1 1115.2,426.5 1124,424 1132.7,421.6 1141.5,419.3" fill="none" stroke="#d83a3a" stroke-width="1.3" stroke-linejoin="round"/>
<line x1="805" y1="82.9" x2="814" y2="82.9" stroke="#e8e8e8" stroke-width="1.3"/><line x1="809.5" y1="79.4" x2="809.5" y2="86.4" stroke="#e8e8e8" stroke-width="1.3"/>
<line x1="17" y1="449.2" x2="26" y2="449.2" stroke="#e8e8e8" stroke-width="1.3"/><line x1="21.5" y1="445.7" x2="21.5" y2="452.7" stroke="#e8e8e8" stroke-width="1.3"/>
<line x1="104.5" y1="529.4" x2="113.5" y2="529.4" stroke="#e8e8e8" stroke-width="1.3"/><line x1="109" y1="525.9" x2="109" y2="532.9" stroke="#e8e8e8" stroke-width="1.3"/>
<line x1="7.5" y1="144.3" x2="1182" y2="144.3" stroke="#f0a030" stroke-width="1.8" stroke-dasharray="3.8 3.7"/>
<polyline points="9,8.5 15,8.5" fill="none" stroke="#e2e2e2" stroke-width="1.3" stroke-linecap="square"/>
<polyline points="9.5,14 14.5,14" fill="none" stroke="#e2e2e2" stroke-width="1.3" stroke-linecap="square"/>
<polyline points="9,20.5 15.5,18.5" fill="none" stroke="#e2e2e2" stroke-width="1.3" stroke-linecap="square"/>
<polyline points="12,8.5 12,19.5" fill="none" stroke="#e2e2e2" stroke-width="1.3" stroke-linecap="square"/>
<polyline points="16.5,16 16.5,8 22.5,8 22.5,16" fill="none" stroke="#e2e2e2" stroke-width="1.3" stroke-linecap="square"/>
<polyline points="19.5,10 19.5,15" fill="none" stroke="#e2e2e2" stroke-width="1.3" stroke-linecap="square"/>
<polyline points="19,15.5 16,21" fill="none" stroke="#e2e2e2" stroke-width="1.3" stroke-linecap="square"/>
<polyline points="20.8,15.5 20.8,20.5 23.5,20.5 23.5,19" fill="none" stroke="#e2e2e2" stroke-width="1.3" stroke-linecap="square"/>
<polyline points="28.5,7 25,12.5" fill="none" stroke="#e2e2e2" stroke-width="1.3" stroke-linecap="square"/>
<polyline points="27,10.5 27,13" fill="none" stroke="#e2e2e2" stroke-width="1.3" stroke-linecap="square"/>
<polyline points="32,7 32,11.5 37,11.5 37,10.5" fill="none" stroke="#e2e2e2" stroke-width="1.3" stroke-linecap="square"/>
<polyline points="30,10 36,8" fill="none" stroke="#e2e2e2" stroke-width="1.3" stroke-linecap="square"/>
<polyline points="27,18.5 27,14.5 36.5,14.5 36.5,18.5" fill="none" stroke="#e2e2e2" stroke-width="1.3" stroke-linecap="square"/>
<polyline points="31.8,15.5 31.8,18" fill="none" stroke="#e2e2e2" stroke-width="1.3" stroke-linecap="square"/>
<polyline points="30.5,18.5 26,21.2" fill="none" stroke="#e2e2e2" stroke-width="1.3" stroke-linecap="square"/>
<polyline points="33.5,18.5 37.5,21.2" fill="none" stroke="#e2e2e2" stroke-width="1.3" stroke-linecap="square"/>
<polyline points="40,8.8 53,8.8" fill="none" stroke="#e2e2e2" stroke-width="1.3" stroke-linecap="square"/>
<polyline points="43.5,7 43.5,11" fill="none" stroke="#e2e2e2" stroke-width="1.3" stroke-linecap="square"/>
<polyline points="49.5,7 49.5,11" fill="none" stroke="#e2e2e2" stroke-width="1.3" stroke-linecap="square"/>
<polyline points="39,11.3 54,11.3" fill="none" stroke="#e2e2e2" stroke-width="1.3" stroke-linecap="square"/>
<polyline points="41.5,13.5 51.5,13.5 51.5,19 41.5,19 41.5,13.5" fill="none" stroke="#e2e2e2" stroke-width="1.3" stroke-linecap="square"/>
<polyline points="41.5,16.2 51.5,16.2" fill="none" stroke="#e2e2e2" stroke-width="1.3" stroke-linecap="square"/>
<polyline points="46.5,11.3 46.5,19" fill="none" stroke="#e2e2e2" stroke-width="1.3" stroke-linecap="square"/>
<polyline points="44,19.5 40.5,21.5" fill="none" stroke="#e2e2e2" stroke-width="1.3" stroke-linecap="square"/>
<polyline points="49,19.5 53,21.5" fill="none" stroke="#e2e2e2" stroke-width="1.3" stroke-linecap="square"/>
<polyline points="54.5,13.5 61.5,7 69,13.5" fill="none" stroke="#e2e2e2" stroke-width="1.3" stroke-linecap="square"/>
<polyline points="57.5,13 65.5,13" fill="none" stroke="#e2e2e2" stroke-width="1.3" stroke-linecap="square"/>
<polyline points="56,16 67,16" fill="none" stroke="#e2e2e2" stroke-width="1.3" stroke-linecap="square"/>
<polyline points="61.5,13 61.5,20.5" fill="none" stroke="#e2e2e2" stroke-width="1.3" stroke-linecap="square"/>
<polyline points="58,17.5 59.2,19.2" fill="none" stroke="#e2e2e2" stroke-width="1.1" stroke-linecap="square"/>
<polyline points="65,17.5 63.8,19.2" fill="none" stroke="#e2e2e2" stroke-width="1.1" stroke-linecap="square"/>
<polyline points="55,20.8 68.5,20.8" fill="none" stroke="#e2e2e2" stroke-width="1.3" stroke-linecap="square"/>
<path d="M77.5,8.5 L82.5,8.5 L82.5,9.6 Q80,11 80,15.5 Q80,20 82.5,21.4 L82.5,22.4 L77.5,22.4 Z" fill="#f07000"/>
<path d="M121.8,8.5 L116.8,8.5 L116.8,9.6 Q119.3,11 119.3,15.5 Q119.3,20 116.8,21.4 L116.8,22.4 L121.8,22.4 Z" fill="#f07000"/>
<polyline points="87,8.3 96.5,8.3 96.5,20.5 87,20.5 87,8.3" fill="none" stroke="#f07000" stroke-width="1.4" stroke-linecap="square"/>
<polyline points="87,14.3 96.5,14.3" fill="none" stroke="#f07000" stroke-width="1.3" stroke-linecap="square"/>
<polyline points="103,7.5 100,12 103.5,12 100.5,16.5 104,15.5" fill="none" stroke="#f07000" stroke-width="1.2" stroke-linecap="square"/>
<polyline points="99.5,20.5 104,18.5" fill="none" stroke="#f07000" stroke-width="1.3" stroke-linecap="square"/>
<polyline points="105.5,11 113,10" fill="none" stroke="#f07000" stroke-width="1.2" stroke-linecap="square"/>
<polyline points="105,14.5 113.5,13" fill="none" stroke="#f07000" stroke-width="1.2" stroke-linecap="square"/>
<polyline points="108,7.5 109.5,15.5 113.5,21" fill="none" stroke="#f07000" stroke-width="1.2" stroke-linecap="square"/>
<polyline points="104.5,21 112,16.5" fill="none" stroke="#f07000" stroke-width="1.2" stroke-linecap="square"/>
<polyline points="111,7.5 112.5,8.8" fill="none" stroke="#f07000" stroke-width="1.1" stroke-linecap="square"/>
<circle cx="135.8" cy="16.6" r="5.2" fill="none" stroke="#e06a00" stroke-width="1.4"/>
<line x1="130.6" y1="16.6" x2="141" y2="16.6" stroke="#e06a00" stroke-width="1.3"/>
<line x1="135.8" y1="11.4" x2="135.8" y2="21.8" stroke="#e06a00" stroke-width="1.3"/>
<rect x="152.5" y="6" width="13" height="15" fill="#777"/>
<rect x="151.5" y="5" width="12.5" height="14.5" fill="#ffffff" stroke="#10108c" stroke-width="1"/>
<polyline points="152,13.3 155.8,8.6 159.2,11.2 163.5,9.3" fill="none" stroke="#ff2020" stroke-width="1.1"/>
<polyline points="152,17.6 155.8,12.4 159.6,15.2 163.5,12.8" fill="none" stroke="#2040ff" stroke-width="1.1"/>
<rect x="1103.6" y="4.6" width="16.8" height="16" fill="#000" stroke="#1c7ccc" stroke-width="1.4"/>
<rect x="1111" y="6.2" width="2.2" height="3.6" fill="#1f86d8"/>
<rect x="1111" y="11.3" width="2.2" height="2" fill="#1f86d8"/>
<rect x="1111" y="14.9" width="2.2" height="3.7" fill="#1f86d8"/>
<rect x="1105.8" y="11.3" width="3.4" height="2.1" fill="#1f86d8"/>
<rect x="1114.8" y="11.3" width="3.4" height="2.1" fill="#1f86d8"/>
<rect x="1123.5" y="4.5" width="17" height="16.5" fill="#000" stroke="#9a9a9a" stroke-width="1.3"/>
<rect x="1143.5" y="4.5" width="17" height="16.5" fill="#000" stroke="#9a9a9a" stroke-width="1.3"/>
<rect x="1163.5" y="4.5" width="17" height="16.5" fill="#000" stroke="#9a9a9a" stroke-width="1.3"/>
<line x1="1127.3" y1="7.2" x2="1127.3" y2="18" stroke="#9a9a9a" stroke-width="1.3"/>
<path d="M1125.7,8.4 L1127.3,6.2 L1128.8999999999999,8.4 Z M1125.7,16.8 L1127.3,19 L1128.8999999999999,16.8 Z" fill="#9a9a9a"/>
<line x1="1126.7" y1="17.1" x2="1137" y2="17.1" stroke="#9a9a9a" stroke-width="1.3"/>
<path d="M1127.9,15.500000000000002 L1125.7,17.1 L1127.9,18.700000000000003 Z M1135.8,15.500000000000002 L1138,17.1 L1135.8,18.700000000000003 Z" fill="#9a9a9a"/>
<rect x="1130.4" y="7.6" width="1.6" height="7.3" fill="#9a9a9a"/>
<path d="M1135.8,7.4 L1132.6,10.5 L1135.8,13.5 Z" fill="#9a9a9a"/>
<line x1="1147.5" y1="7.2" x2="1147.5" y2="18" stroke="#9a9a9a" stroke-width="1.3"/>
<path d="M1145.9,8.4 L1147.5,6.2 L1149.1,8.4 Z M1145.9,16.8 L1147.5,19 L1149.1,16.8 Z" fill="#9a9a9a"/>
<line x1="1146.7" y1="17.1" x2="1157" y2="17.1" stroke="#9a9a9a" stroke-width="1.3"/>
<path d="M1147.9,15.500000000000002 L1145.7,17.1 L1147.9,18.700000000000003 Z M1155.8,15.500000000000002 L1158,17.1 L1155.8,18.700000000000003 Z" fill="#9a9a9a"/>
<path d="M1151,7.4 L1157.2,12 L1151,15.3 Z" fill="#9a9a9a"/>
<rect x="1166.2" y="6.8" width="2.8" height="11.8" rx="1.2" fill="none" stroke="#9a9a9a" stroke-width="1.1"/>
<line x1="1168.5" y1="11.8" x2="1174" y2="11.8" stroke="#9a9a9a" stroke-width="2"/>
<circle cx="1169.2" cy="11.8" r="1.5" fill="#9a9a9a"/>
<path d="M1173.3,8.8 L1177,11.8 L1173.3,14.9 Z" fill="#9a9a9a"/>
<rect x="1183" y="31" width="84" height="20" fill="#000"/>
<rect x="1182.5" y="144.5" width="85" height="21" fill="#000" stroke="#f0a030" stroke-width="1.2"/>
<rect x="1257" y="134" width="10" height="10" fill="#000"/>
<path d="M1262,134.3 L1266.5,138.6 L1257.5,138.6 Z M1262,139.4 L1266.5,143.8 L1257.5,143.8 Z" fill="#f0a030"/>
<line x1="1268.5" y1="0" x2="1268.5" y2="631" stroke="#262626" stroke-width="1"/>
<rect x="1270.5" y="110.2" width="2.5" height="1.3" fill="#b8d4f4"/>
<rect x="1270.5" y="113.4" width="2.5" height="1.3" fill="#b8d4f4"/>
<rect x="1270.5" y="116.2" width="2.5" height="1.3" fill="#b8d4f4"/>
<rect x="1270.5" y="118.9" width="2.5" height="1.3" fill="#b8d4f4"/>
<rect x="1270.5" y="122.10000000000001" width="2.5" height="1.3" fill="#b8d4f4"/>
<rect x="1270.5" y="139.70000000000002" width="2.5" height="1.3" fill="#b8d4f4"/>
<rect x="1270.5" y="142.9" width="2.5" height="1.3" fill="#b8d4f4"/>
<rect x="1270.5" y="146.8" width="2.5" height="1.3" fill="#b8d4f4"/>
<rect x="1270.5" y="153.20000000000002" width="2.5" height="1.3" fill="#b8d4f4"/>
<rect x="1270.5" y="236.5" width="2.5" height="1.3" fill="#b8d4f4"/>
<rect x="1270.5" y="245.20000000000002" width="2.5" height="1.3" fill="#b8d4f4"/>
<rect x="1270.5" y="267.4" width="2.5" height="1.3" fill="#b8d4f4"/>
<rect x="1270.5" y="273.0" width="2.5" height="1.3" fill="#b8d4f4"/>
<rect x="1270.5" y="280.09999999999997" width="2.5" height="1.3" fill="#b8d4f4"/>
<rect x="1270.5" y="296.0" width="2.5" height="1.3" fill="#b8d4f4"/>
<rect x="1270.5" y="301.5" width="2.5" height="1.3" fill="#b8d4f4"/>
<rect x="1270.5" y="307.79999999999995" width="2.5" height="1.3" fill="#b8d4f4"/>
<rect x="1270.5" y="338.9" width="2.5" height="1.3" fill="#b8d4f4"/>
<rect x="1270.5" y="361.4" width="2.5" height="1.3" fill="#b8d4f4"/>
<rect x="1270.5" y="365.4" width="2.5" height="1.3" fill="#b8d4f4"/>
<rect x="1270.5" y="372.2" width="2.5" height="1.3" fill="#b8d4f4"/>
<rect x="1270.5" y="394.4" width="2.5" height="1.3" fill="#b8d4f4"/>
<rect x="1270.5" y="403.09999999999997" width="2.5" height="1.3" fill="#b8d4f4"/>
<rect x="1271" y="172.8" width="2" height="11.099999999999994" fill="#5a7ec8"/>
<rect x="1271" y="207.7" width="2" height="8.700000000000017" fill="#5a7ec8"/>
<rect x="1271" y="422" width="2" height="13.5" fill="#5a7ec8"/>
<path d="M0,549.9 Q2.6,550.2 2.6,552.8 Q2.6,555.4 0,555.6 Q2.8,556 2.8,558.6 Q2.8,561.4 0,561.4" stroke="#d8d4c8" stroke-width="1.4" fill="none"/>
<rect x="1271" y="496.6" width="2" height="9.4" fill="#c8a040"/>
</svg>
<div class="t" style="left:170px;top:6.5px;color:#e8e8e8">MA(5,10,30,60,100,200)</div>
<div class="t" style="left:342.7px;top:6.5px;color:#e8e8e8">MA5:3389.18</div>
<div class="t" style="left:446px;top:6.5px;color:#caca22">MA10:3364.71</div>
<div class="t" style="left:559.2px;top:6.5px;color:#c830d0">MA30:3318.77</div>
<div class="t" style="left:671.6px;top:6.5px;color:#22c622">MA60:3273.57</div>
<div class="t" style="left:783.7px;top:6.5px;color:#9a9a9a">MA100:3133.99</div>
<div class="t" style="left:905px;top:6.5px;color:#e83030">MA200:</div>
<div class="ax" style="top:20px;height:10px;overflow:hidden"><div style="padding-top:1.5px">4517.30</div></div>
<div class="ax" style="top:96px">4325.65</div>
<div class="ax" style="top:171px">4134.01</div>
<div class="ax" style="top:247px">3942.36</div>
<div class="ax" style="top:322px">3750.72</div>
<div class="ax" style="top:397px">3559.07</div>
<div class="ax" style="top:473px">3367.43</div>
<div class="ax" style="top:548px">3175.78</div>
<div class="ax" style="top:33.5px;left:1184.5px;color:#e89a30">4514.13</div>
<div class="ax" style="top:147px;color:#eda032">4225.53</div>
<div style="position:absolute;left:1144px;top:580px;font-size:32px;line-height:1;color:#e8eef8;letter-spacing:1.4px;white-space:nowrap">FX678</div>
<div class="lb" style="left:814.5px;top:65.5px;color:#e8404f">4381.29</div>
<div class="lb" style="left:27.2px;top:431.5px;color:#e8404f">3451.14</div>
<div class="lb" style="left:114.5px;top:530.5px;color:#46c08a">3247.87</div>
</body></html>
